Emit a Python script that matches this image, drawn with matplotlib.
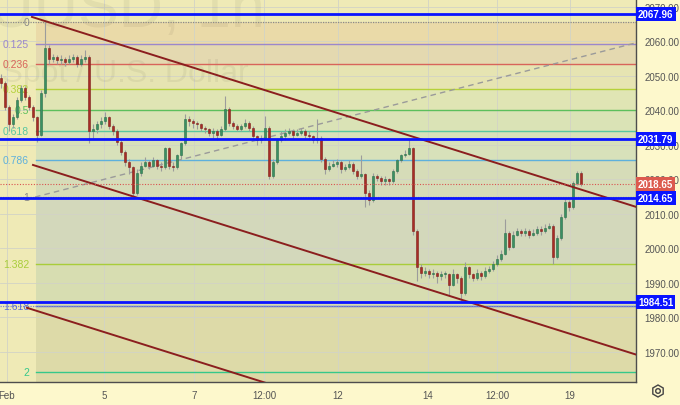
import matplotlib.pyplot as plt
import matplotlib.transforms as mtransforms
from matplotlib.patches import RegularPolygon, Circle
import numpy as np

plt.rcParams['font.family'] = ['Liberation Sans', 'DejaVu Sans']

# hourly-ish candles, XAUUSD, Feb 1 .. Feb 19
first_open = 2049.5
closes = [2048, 2041, 2036, 2038, 2043, 2046.5, 2044, 2041, 2038, 2033,
          2045, 2058, 2055, 2055.5, 2054.5, 2055, 2054, 2055, 2055.5, 2053.5,
          2055, 2055.5, 2034, 2034.5, 2036, 2037, 2038, 2035.5, 2034, 2031,
          2028, 2025, 2023.5, 2016, 2022, 2024, 2025, 2024, 2025.5, 2024,
          2023.5, 2029, 2024, 2023.5, 2027, 2030.5, 2037.5, 2037, 2036.5, 2036,
          2035, 2034.5, 2033.5, 2034, 2033, 2034.5, 2040.5, 2036.5, 2035.5, 2034.5,
          2035.5, 2036.5, 2035, 2032.5, 2031.5, 2032, 2035, 2021, 2025, 2031.5,
          2032.5, 2033.5, 2034, 2033, 2033.5, 2034, 2033, 2032.5, 2031.5, 2032,
          2026, 2023, 2024, 2024.5, 2025, 2023, 2023.5, 2024.5, 2022.5, 2021,
          2021.5, 2016, 2014, 2021, 2020.5, 2019.5, 2020, 2019.5, 2022.5, 2025.5,
          2027, 2027.5, 2029, 2005, 1994.5, 1993, 1993.5, 1992.5, 1993, 1992,
          1992.5, 1992.5, 1989.5, 1992.5, 1991.5, 1987, 1994.5, 1992.5, 1991.5, 1993,
          1992, 1993.5, 1994, 1995.5, 1997, 1998.5, 2004.5, 2000.5, 2004, 2005,
          2004.5, 2005, 2004, 2004.5, 2005.5, 2005, 2006, 2006.5, 1997.5, 2003,
          2009, 2013.5, 2012, 2019, 2022, 2018.65]
highs = [2050.5, 2048.5, 2041.5, 2039, 2044, 2047.5, 2047, 2044.5, 2041.5, 2038.5,
         2046, 2065.5, 2059, 2056.5, 2056, 2056, 2055.5, 2056, 2056.5, 2056,
         2056, 2057.5, 2056, 2036, 2037, 2038, 2039.5, 2038.5, 2036, 2034.5,
         2031.5, 2028.5, 2026, 2024, 2023, 2025, 2026.5, 2025.5, 2026.5, 2026,
         2025, 2029.5, 2029.5, 2025, 2027.5, 2031, 2039, 2038.5, 2037.5, 2037,
         2036.5, 2035.5, 2035, 2035, 2034.5, 2035.5, 2044.2, 2041, 2037, 2036,
         2036, 2037.5, 2037, 2035.5, 2033, 2033, 2038.5, 2035.5, 2026, 2032,
         2034, 2034.5, 2035, 2034.5, 2034.5, 2035, 2034.5, 2034, 2033, 2037.5,
         2032.5, 2026.5, 2025, 2025.5, 2026, 2025.5, 2024.5, 2025.5, 2025, 2023,
         2027, 2022, 2017, 2022, 2021.5, 2021, 2021, 2020.5, 2023, 2026,
         2027.5, 2028.5, 2031.7, 2029.5, 2005.5, 1995.5, 1994.5, 1994, 1994, 1993.5,
         1993.5, 1993.5, 1993, 1994, 1993, 1992, 1996.2, 1995, 1993, 1994,
         1993.5, 1994.5, 1995, 1996.5, 1998, 1999.5, 2008.6, 2005, 2005, 2006,
         2005.5, 2006, 2005.5, 2005.5, 2006.5, 2006.5, 2007, 2007.5, 2007, 2004,
         2010, 2014.5, 2014, 2019.5, 2022.5, 2022.5]
lows = [2046.5, 2040, 2034, 2035, 2037.5, 2042.5, 2043, 2040, 2037, 2031,
        2032.5, 2044, 2053.5, 2054, 2053.5, 2053.5, 2053, 2053.5, 2054, 2052.5,
        2053, 2054, 2030.5, 2032, 2033.5, 2035, 2036, 2034.5, 2033, 2030,
        2027, 2024, 2021.5, 2014.7, 2015.5, 2021, 2023.5, 2023, 2023.5, 2023,
        2022.5, 2023, 2023, 2022.5, 2023, 2026, 2030, 2035.5, 2035, 2034.5,
        2034, 2033.5, 2032.5, 2032, 2031.5, 2032.5, 2034, 2035.5, 2034.5, 2034,
        2034, 2035, 2034, 2031.5, 2030, 2030.5, 2031.5, 2020, 2020.5, 2024.5,
        2031, 2031.5, 2033, 2032, 2032.5, 2033, 2032, 2031.5, 2030.5, 2030.5,
        2025, 2021.5, 2022.5, 2023.5, 2023.5, 2022, 2022.5, 2023, 2021.5, 2020,
        2020.5, 2012, 2012.5, 2013.5, 2019.5, 2018.5, 2018.5, 2018.5, 2019, 2022,
        2025, 2026.5, 2027, 2004, 1990.6, 1991.5, 1992, 1991.5, 1991.5, 1990,
        1991, 1991.5, 1986.2, 1989, 1990, 1984.5, 1986.5, 1991.5, 1990.5, 1991,
        1991, 1991.5, 1993, 1993.5, 1995, 1996.5, 1998, 1999.5, 2000, 2003.5,
        2003.5, 2003.5, 2003, 2003.5, 2004, 2004, 2004.5, 2005.5, 1995.5, 1997,
        2002.5, 2008.5, 2011, 2011.5, 2018.5, 2018]
opens = [first_open] + closes[:-1]

# horizontal levels
blue_levels = [2067.96, 2031.79, 2014.65, 1984.51]
last_price = 2018.65
price_ticks = [1970, 1980, 1990, 2000, 2010, 2020, 2030, 2040, 2050, 2060, 2070]

# fibonacci retracement
fib_top = 2065.5
fib_bottom = 2014.8
fib_start = 8.75
fib_levels = [0, 0.125, 0.236, 0.382, 0.5, 0.618, 0.786, 1, 1.382, 1.618, 2]
fib_labels = ['0', '0.125', '0.236', '0.382', '0.5', '0.618', '0.786', '1', '1.382', '1.618', '2']
fib_colors = ['#8a8a8a', '#9b87cc', '#d8645a', '#b5d13a', '#5cbf5c', '#58c7a0',
              '#5eb0dc', '#8a8a8a', '#a9cd3a', '#5a6fd0', '#35c88a']
zone_colors = ['#eadaa8', '#e4d9b0', '#e6e4b2', '#e0e5b4', '#dae3b6', '#d8e1ba',
               '#d6dcb8', '#d3d8bb', '#d7ddb1', '#dddaa8', '#ddd9a6']

# trend channel (start index, start price), common slope
channel_starts = [(7.75, 2067.1), (8.0, 2024.2), (6.5, 1982.8)]
channel_slope = -0.3645
diag_line = [(8.5, 2014.9), (158.75, 2059.6)]

# time axis
tick_pos = [1.5, 25.75, 48.25, 65.75, 84.25, 106.75, 124.0, 142.25]
tick_txt = ['Feb', '5', '7', '12:00', '12', '14', '12:00', '19']

xmin, xmax = -0.25, 158.75
ymin, ymax = 1961.3, 2072.3

fig = plt.figure(figsize=(6.8, 4.06), dpi=100)
fig.patch.set_facecolor('#fdf8cc')
ax = fig.add_axes([0, 23 / 406, 636 / 680, 383 / 406])
ax.set_facecolor('#efeab6')
ax.set_xlim(xmin, xmax)
ax.set_ylim(ymin, ymax)

# fib zones
prices = [fib_top - l * (fib_top - fib_bottom) for l in fib_levels]
for k in range(len(prices)):
    lo = prices[k + 1] if k + 1 < len(prices) else ymin
    ax.fill_between([fib_start, xmax], lo, prices[k], color=zone_colors[k], lw=0, zorder=0.5)
for p, lab, col in zip(prices, fib_labels, fib_colors):
    if lab in ('0', '1'):
        ax.axhline(p, color=col, lw=0.9, ls=(0, (1, 1)), zorder=1.5)
    else:
        ax.plot([fib_start, xmax], [p, p], color=col, lw=1.0, zorder=1.5)
    ax.text(7.0, p, lab, color=col, fontsize=7.5, ha='right', va='center', zorder=2)
ax.axhline(prices[9], color='#7f86d6', lw=0.9, ls=(0, (1, 1)), zorder=1.5)

# watermark
ax.text(66, 2064.5, 'XAUUSD, 1h', fontsize=44, color='#000000', alpha=0.05,
        ha='right', va='baseline', zorder=1)
ax.text(62, 2048.5, 'Gold Spot / U.S. Dollar', fontsize=23, color='#000000', alpha=0.05,
        ha='right', va='baseline', zorder=1)

# grid
ax.set_yticks(price_ticks)
ax.set_xticks(tick_pos)
ax.grid(True, color='#d2d3c6', lw=0.6, zorder=1)
ax.set_axisbelow(True)

# candles
x = np.arange(len(closes))
o = np.array(opens)
c = np.array(closes)
up = c >= o
ax.vlines(x, lows, highs, color='#9c9c9c', lw=0.8, zorder=3)
body_h = np.maximum(np.abs(c - o), 0.3)
ax.bar(x[up], body_h[up], bottom=np.minimum(o, c)[up], width=0.55,
       color='#3a9063', edgecolor='#2b6e48', lw=0.4, zorder=3.5)
ax.bar(x[~up], body_h[~up], bottom=np.minimum(o, c)[~up], width=0.55,
       color='#a82c26', edgecolor='#7e1f1b', lw=0.4, zorder=3.5)

# channel and diagonal
for sx, sp in channel_starts:
    ax.plot([sx, xmax], [sp, sp + channel_slope * (xmax - sx)], color='#8b1e1e', lw=1.4, zorder=4)
ax.plot([diag_line[0][0], diag_line[1][0]], [diag_line[0][1], diag_line[1][1]],
        color='#9a9a9a', lw=1.0, ls=(0, (4, 3)), zorder=2)

# horizontal levels
for b in blue_levels:
    ax.axhline(b, color='#0a14ff', lw=2.0, zorder=4.5)
ax.axhline(last_price, color='#d9534f', lw=0.8, ls=(0, (1, 1.5)), zorder=4.4)

# axes styling
for s in ['top', 'left']:
    ax.spines[s].set_visible(False)
for s in ['bottom', 'right']:
    ax.spines[s].set_color('#4d4d4d')
    ax.spines[s].set_linewidth(1.0)
ax.yaxis.tick_right()
ax.set_yticklabels(['%.2f' % t for t in price_ticks])
ax.tick_params(axis='y', length=0, pad=6, labelsize=7, labelcolor='#555555')
ax.set_xticklabels(tick_txt)
ax.tick_params(axis='x', length=0, pad=6, labelsize=7, labelcolor='#555555')

# price boxes on the axis
trans = mtransforms.blended_transform_factory(fig.transFigure, ax.transData)
for b in blue_levels:
    ax.text(638 / 680, b, '%.2f' % b, transform=trans, fontsize=7, fontweight='bold',
            color='white', ha='left', va='center', clip_on=False, zorder=10,
            bbox=dict(boxstyle='square,pad=0.22', fc='#0a14ff', ec='none'))
ax.text(638 / 680, last_price, '%.2f' % last_price, transform=trans, fontsize=7,
        fontweight='bold', color='white', ha='left', va='center', clip_on=False, zorder=10,
        bbox=dict(boxstyle='square,pad=0.22', fc='#dc5a4e', ec='none'))

# settings icon
fig.add_artist(RegularPolygon((658, 14), 6, radius=6, fill=False, ec='#444444', lw=1.0,
                              transform=None))
fig.add_artist(Circle((658, 14), 2.3, fill=False, ec='#444444', lw=1.0, transform=None))

fig.savefig('out.png', dpi=100)
